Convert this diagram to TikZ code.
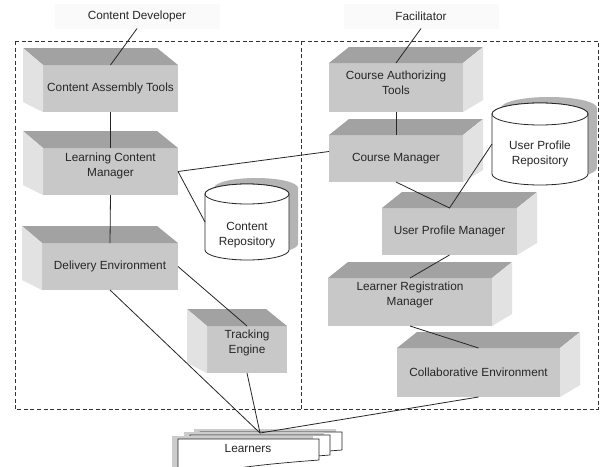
\documentclass[tikz,border=0pt]{standalone}
\usepackage{fontspec}
\setmainfont{Liberation Sans}
\definecolor{frontc}{HTML}{C8C8C8}
\definecolor{topc}{HTML}{A2A2A2}
\definecolor{sidec}{HTML}{E2E2E2}
\definecolor{cylsh}{HTML}{B4B4B4}
\tikzset{
  frontface/.style={fill=frontc, draw=none, rectangle, inner sep=0pt, outer sep=0pt},
  txt/.style={font=\fontsize{11.8}{15}\selectfont, align=center, inner sep=0pt, text=black!85},
  conn/.style={draw=black!85, line width=0.8pt},
  frame/.style={draw=black!80, line width=0.8pt, dash pattern=on 4pt off 2.5pt},
  topface/.style={fill=topc},
  sideface/.style={fill=sidec},
  cylshadow/.style={fill=cylsh},
  cylbody/.style={fill=white, draw=black!85, line width=0.8pt},
  docshape/.style={fill=white, draw=black!85, line width=0.7pt},
  docshadow/.style={fill=gray!40},
  titlebg/.style={fill=black!2, inner sep=0pt, outer sep=0pt, minimum height=25pt}
}
% left-depth box: name, x1, y1, x2, y2, text, text yshift
\newcommand\mkboxL[7]{%
  \node[frontface, minimum width={#4-#2}, minimum height={#5-#3}] (#1) at ({(#2+#4)/2},{(#3+#5)/2}) {};
  \fill[topface] (#1.north west) -- ++(-20,-17) -- ([shift={(-21,-17)}]#1.north east) -- (#1.north east) -- cycle;
  \fill[sideface] (#1.north west) -- ++(-20,-17) -- ([shift={(-20,-10)}]#1.south west) -- (#1.south west) -- cycle;
  \node[txt, yshift=#7] at (#1.center) {#6};
}
% right-depth box
\newcommand\mkboxR[7]{%
  \node[frontface, minimum width={#4-#2}, minimum height={#5-#3}] (#1) at ({(#2+#4)/2},{(#3+#5)/2}) {};
  \fill[topface] (#1.north west) -- ++(20,-16) -- ([shift={(20,-16)}]#1.north east) -- (#1.north east) -- cycle;
  \fill[sideface] (#1.north east) -- ++(20,-16) -- ([shift={(20,-12)}]#1.south east) -- (#1.south east) -- cycle;
  \node[txt, yshift=#7] at (#1.center) {#6};
}
% cylinder: name, cx, ytop-centre, ybottom-centre, rx, ry, text, text yshift
\newcommand\mkcyl[8]{%
  \fill[cylshadow] ({#2-#5+9},{#3-6}) -- ({#2-#5+9},{#4-6}) arc[start angle=180,end angle=360,x radius=#5pt,y radius=#6pt]
     -- ({#2+#5+9},{#3-6}) arc[start angle=0,end angle=180,x radius=#5pt,y radius=#6pt] -- cycle;
  \filldraw[cylbody] ({#2-#5},#3) -- ({#2-#5},#4) arc[start angle=180,end angle=360,x radius=#5pt,y radius=#6pt]
     -- ({#2+#5},#3) arc[start angle=0,end angle=180,x radius=#5pt,y radius=#6pt] -- cycle;
  \draw[cylbody] (#2,#3) ellipse[x radius=#5pt,y radius=#6pt];
  \node[inner sep=0pt, outer sep=0pt, minimum width={2*#5}, minimum height={#4-#3+2*#6}] (#1) at (#2,{(#3+#4)/2}) {};
  \node[txt, yshift=#8] at (#1.center) {#7};
}
% document sheet: x1, y1, x2, y bottom-right
\newcommand\mkdoc[4]{%
  \fill[docshadow] ({#1-6},{#2-3}) -- ({#3-6},{#2-3}) -- ({#3-6},{#4-3}) .. controls ({#3-46},{#4}) and ({#3-106},{#4+5}) .. ({#1-6},{#4+17}) -- cycle;
  \filldraw[docshape] (#1,#2) -- (#3,#2) -- (#3,#4) .. controls ({#3-40},{#4+3}) and ({#3-100},{#4+8}) .. (#1,{#4+20}) -- cycle;
}
\begin{document}
\begin{tikzpicture}[x=1pt, y=-1pt]
  \useasboundingbox (0,0) rectangle (602,466);
  \fill[white] (0,0) rectangle (602,466);
  \clip (0,0) rectangle (602,466);

  % titles
  \node[titlebg, txt, minimum width=165pt] (dev) at (137,16) {Content Developer};
  \node[titlebg, txt, minimum width=155pt] (fac) at (421,16) {Facilitator};

  % dashed frames
  \draw[frame] (15,41) rectangle (598,409);
  \draw[frame] (301,41) -- (301,409);

  % left column
  \mkboxL{cat}{43}{65}{178}{112}{Content Assembly Tools}{0pt}
  \mkboxL{lcm}{43}{148}{178}{195}{Learning Content\\Manager}{6pt}
  \mkboxL{de}{42}{243}{178}{290}{Delivery Environment}{0pt}
  \mkboxL{te}{207}{326}{287}{373}{Tracking\\Engine}{7pt}

  % right column
  \mkboxR{caut}{329}{63}{463}{112}{Course Authorizing\\Tools}{5pt}
  \mkboxR{cm}{329}{135}{463}{182}{Course Manager}{0pt}
  \mkboxR{upm}{382}{208}{517}{255}{User Profile Manager}{0pt}
  \mkboxR{lrm}{328}{278}{492}{326}{Learner Registration\\Manager}{7pt}
  \mkboxR{ce}{397}{348}{560}{397}{Collaborative Environment}{0pt}

  % repositories
  \mkcyl{cr}{247}{194}{250}{42}{10}{Content\\Repository}{-13pt}
  \mkcyl{upr}{540}{114}{174}{48}{11}{User Profile\\Repository}{-10pt}

  % learners
  \mkdoc{200}{432}{342}{450}
  \mkdoc{190}{435}{330}{455}
  \mkdoc{178}{439}{319}{460}
  \node[txt] (lrn) at (248,448) {Learners};
  \coordinate (ljoin) at (260,433);

  % connectors
  \draw[conn] (dev.south) -- (cat.north);
  \draw[conn] (fac.south) -- (caut.north);
  \draw[conn] (cat.south) -- (lcm.north);
  \draw[conn] (lcm.south) -- (de.north);
  \draw[conn] (lcm.east) -- ([yshift=7pt]cm.west);
  \draw[conn] (lcm.east) -- (cr.west);
  \draw[conn] (de.east) -- (te.north);
  \draw[conn] (de.south) -- (ljoin);
  \draw[conn] (te.south) -- (ljoin);
  \draw[conn] (ce.south) -- (ljoin);
  \draw[conn] (caut.south) -- (cm.north);
  \draw[conn] (cm.south) -- (upm.north) -- (upr.west);
  \draw[conn] (upm.south) -- (lrm.north);
  \draw[conn] (lrm.south) -- (ce.north);
\end{tikzpicture}
\end{document}
